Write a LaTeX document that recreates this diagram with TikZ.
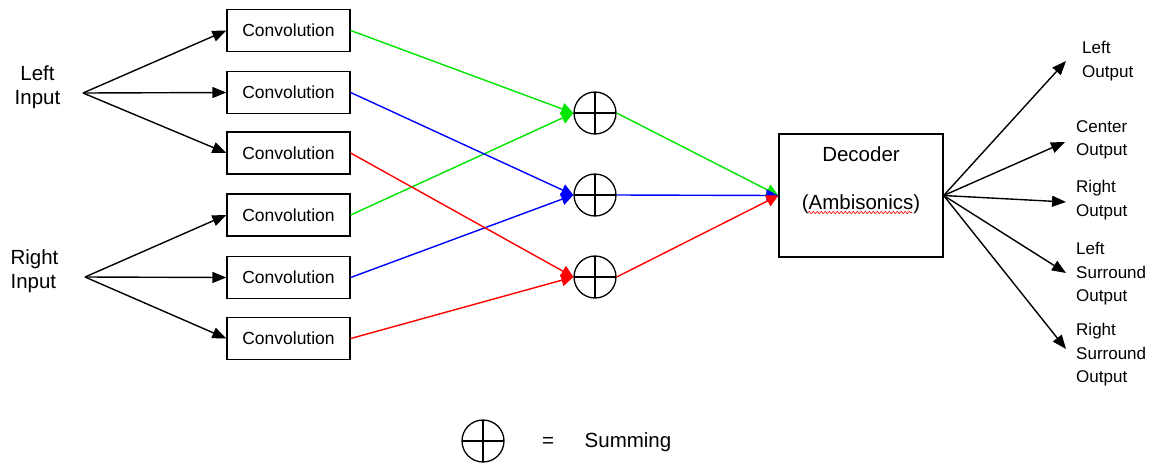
\documentclass[tikz,border=0pt]{standalone}
\usepackage{fontspec}
\setmainfont{Liberation Sans}
\usetikzlibrary{arrows.meta,decorations.pathmorphing}
\definecolor{cgreen}{RGB}{0,230,0}
\definecolor{cblue}{RGB}{0,0,255}
\definecolor{cred}{RGB}{255,0,0}
\tikzset{
  convbox/.style={draw, line width=1.3pt, minimum width=123pt, minimum height=42pt, inner sep=0pt, font=\fontsize{17.5}{20}\selectfont},
  sumnode/.style={draw, circle, line width=1.3pt, minimum size=42pt, inner sep=0pt,
    path picture={\draw[line width=1.3pt] (path picture bounding box.north) -- (path picture bounding box.south)
      (path picture bounding box.west) -- (path picture bounding box.east);}},
  bigtxt/.style={inner sep=0pt, font=\fontsize{20.5}{24}\selectfont},
  outtxt/.style={inner sep=0pt, anchor=west, align=left, font=\fontsize{17}{23.5}\selectfont},
  blk/.style={line width=1.4pt, -{Triangle[length=14pt,width=11pt]}},
  col/.style={line width=1.4pt, -{Triangle[length=12pt,width=12pt]}},
}
\begin{document}
\begin{tikzpicture}[x=1pt,y=-1pt]
\useasboundingbox (0,0) rectangle (1158,464);
% inputs
\node[bigtxt, align=center] (lin) at (37.5,87) {Left\\Input};
\node[bigtxt, align=left] (rin) at (34.5,271) {Right\\Input};
\coordinate (lf) at (83,93);
\coordinate (rf) at (85,277);
% convolution boxes
\node[convbox] (c1) at (288.5,30.5) {Convolution};
\node[convbox] (c2) at (288.5,92.5) {Convolution};
\node[convbox] (c3) at (288.5,153) {Convolution};
\node[convbox] (c4) at (288.5,215) {Convolution};
\node[convbox] (c5) at (288.5,277.5) {Convolution};
\node[convbox] (c6) at (288.5,338.5) {Convolution};
\draw[blk] (lf) -- (c1.west);
\draw[blk] (lf) -- (c2.west);
\draw[blk] (lf) -- (c3.west);
\draw[blk] (rf) -- (c4.west);
\draw[blk] (rf) -- (c5.west);
\draw[blk] (rf) -- (c6.west);
% summing nodes
\node[sumnode] (s1) at (595,113) {};
\node[sumnode] (s2) at (595,195) {};
\node[sumnode] (s3) at (595,277) {};
\draw[col, cgreen] (c1.east) -- (s1.west);
\draw[col, cgreen] (c4.east) -- (s1.west);
\draw[col, cblue] (c2.east) -- (s2.west);
\draw[col, cblue] (c5.east) -- (s2.west);
\draw[col, cred] (c3.east) -- (s3.west);
\draw[col, cred] (c6.east) -- (s3.west);
% decoder
\node[draw, line width=1.3pt, minimum width=164pt, minimum height=123pt, inner sep=0pt] (dec) at (861,195.5) {};
\node[bigtxt] (dect) at (861,154) {Decoder};
\node[bigtxt] (amb) at (861,204) {(Ambisonics)};
\draw[cred, line width=0.6pt, decorate, decoration={snake, amplitude=1.2pt, segment length=4pt}] (808,212.5) -- (912,212.5);
\draw[col, cgreen] (s1.east) -- (dec.west);
\draw[col, cblue] (s2.east) -- (dec.west);
\draw[col, cred] (s3.east) -- (dec.west);
% outputs
\coordinate (o1) at (1066,61);
\coordinate (o2) at (1065,142);
\coordinate (o3) at (1066,202);
\coordinate (o4) at (1066,273);
\coordinate (o5) at (1066,349);
\draw[blk] (dec.east) -- (o1);
\draw[blk] (dec.east) -- (o2);
\draw[blk] (dec.east) -- (o3);
\draw[blk] (dec.east) -- (o4);
\draw[blk] (dec.east) -- (o5);
\node[outtxt] (t1) at (1082,61) {Left\\Output};
\node[outtxt] (t2) at (1076,140) {Center\\Output};
\node[outtxt] (t3) at (1076,200) {Right\\Output};
\node[outtxt] (t4) at (1076,274) {Left\\Surround\\Output};
\node[outtxt] (t5) at (1076,355) {Right\\Surround\\Output};
% legend
\node[sumnode] (leg) at (483,441) {};
\node[bigtxt] (eq) at (548,442) {=};
\node[bigtxt] (summ) at (628,442) {Summing};
\end{tikzpicture}
\end{document}
